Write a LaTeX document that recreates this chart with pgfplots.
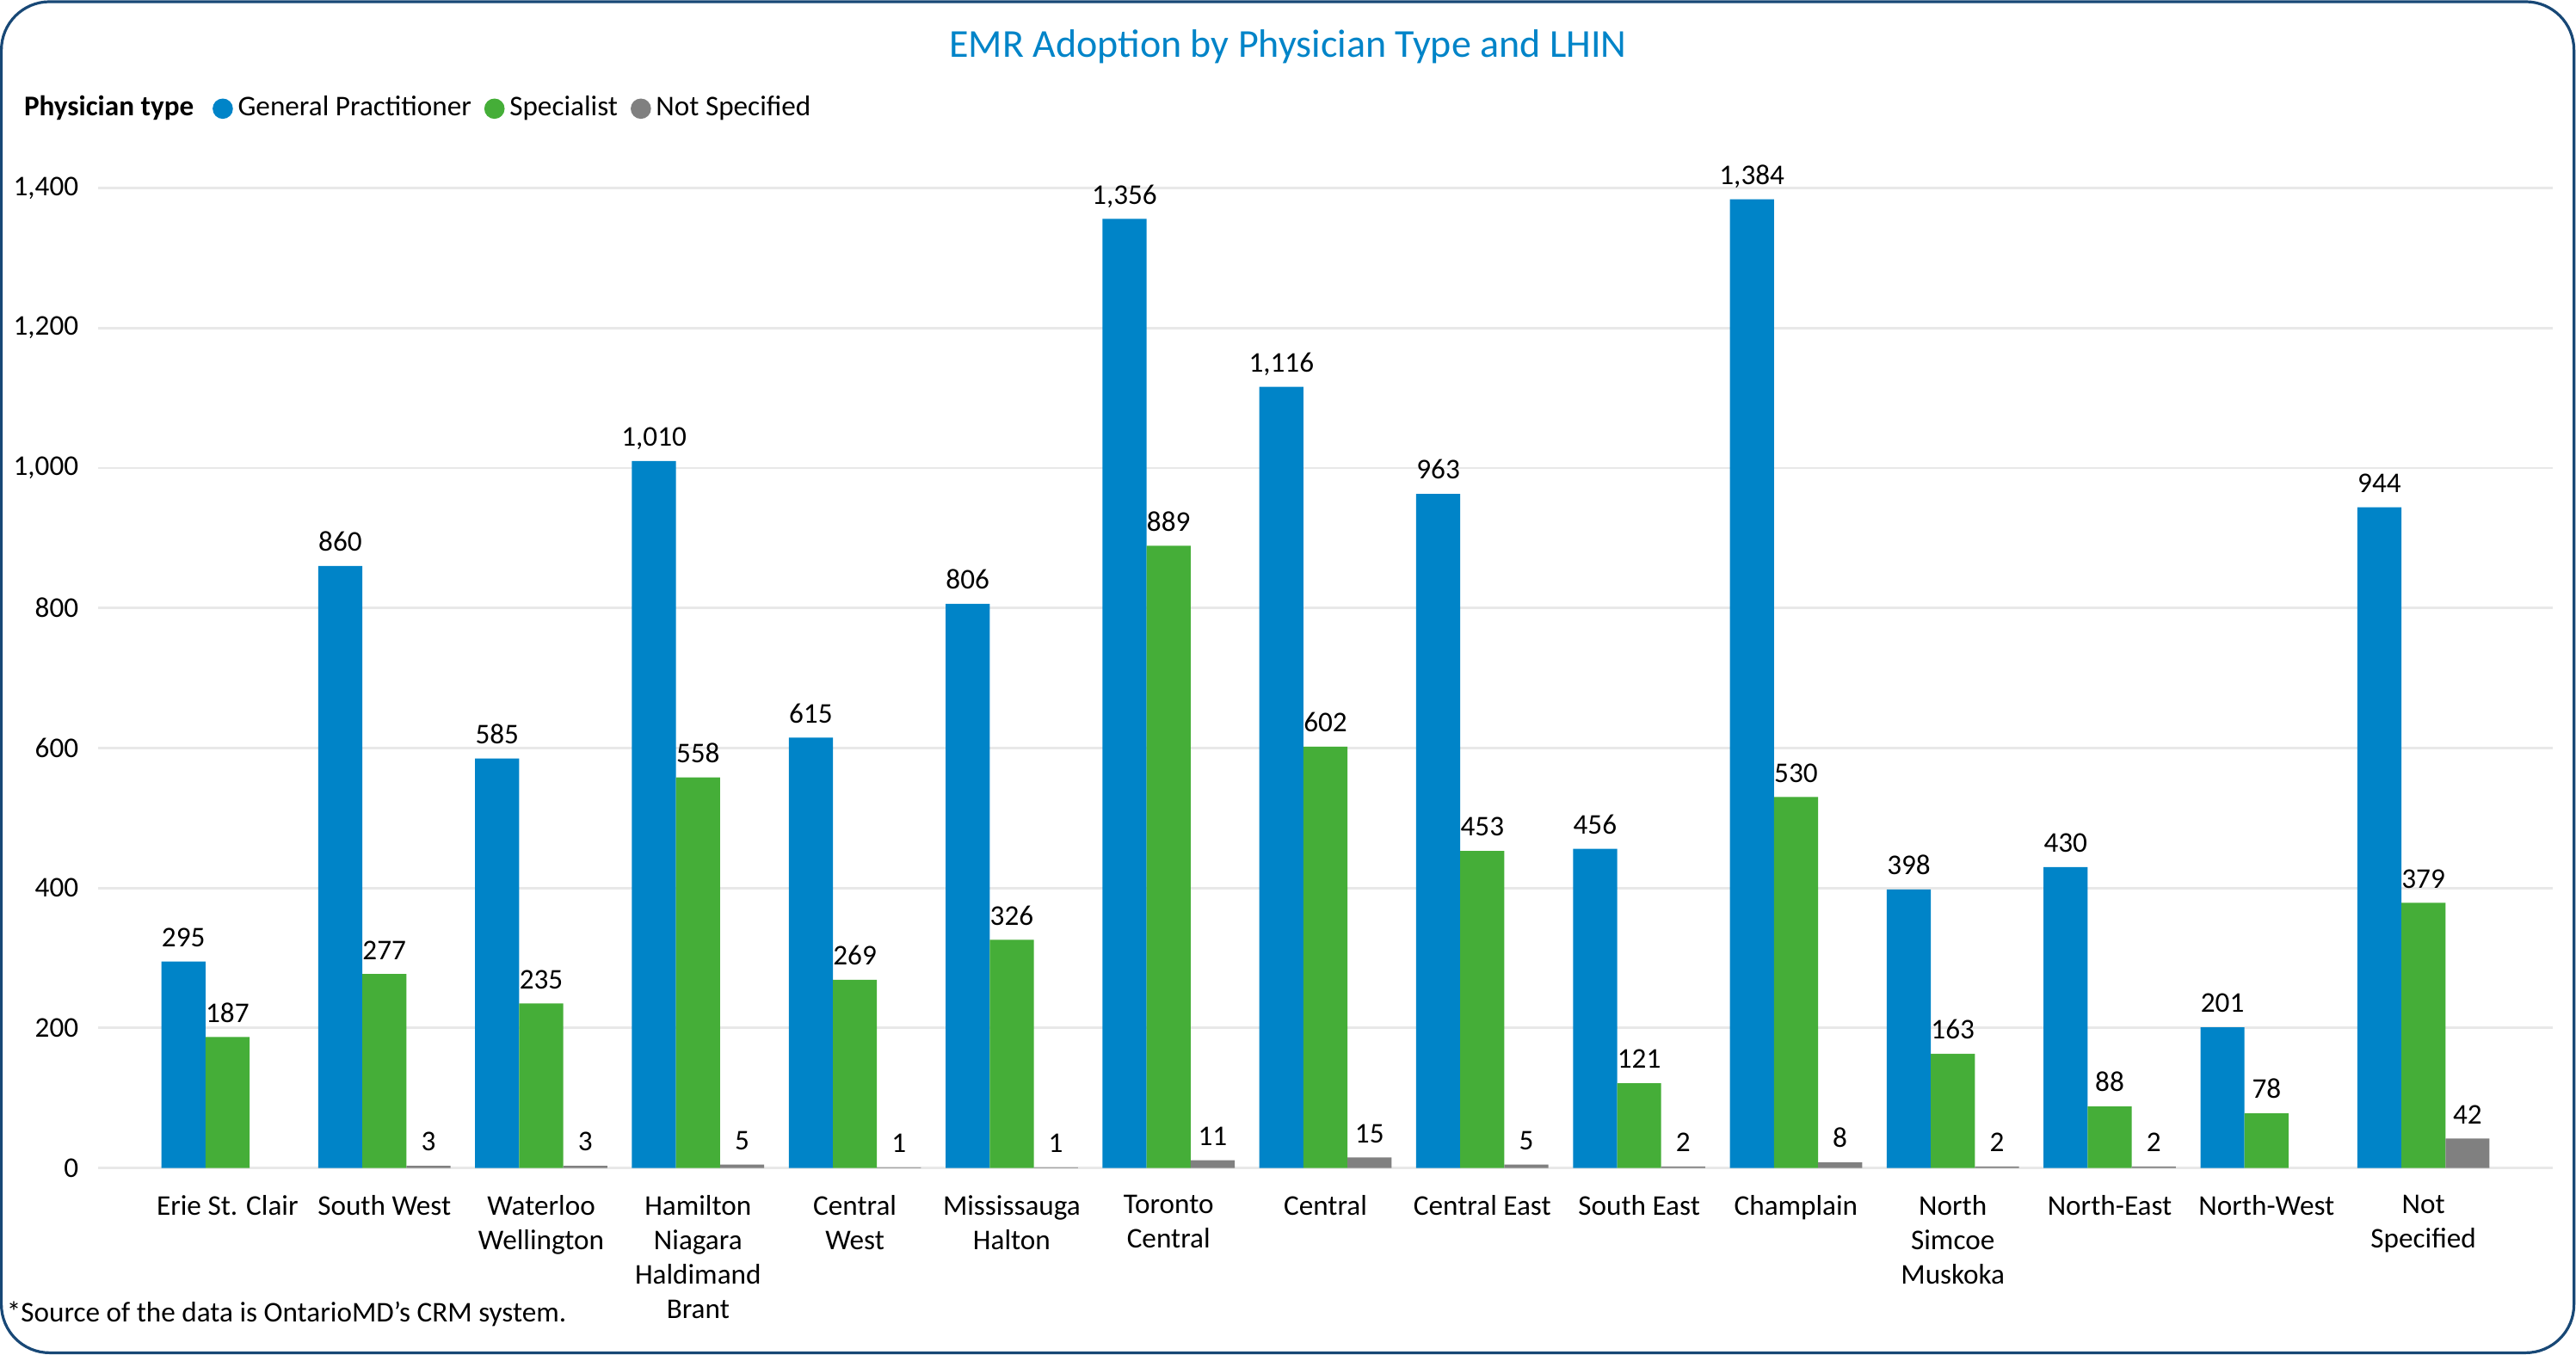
\documentclass[border=0pt]{standalone}
\usepackage{pgfplots}
\pgfplotsset{compat=1.18}
\usepackage{fontspec}
\setmainfont{Carlito}
\definecolor{gpblue}{RGB}{0,132,200}
\definecolor{spgreen}{RGB}{69,174,56}
\definecolor{nsgray}{RGB}{128,128,128}
\definecolor{framenavy}{RGB}{24,72,118}
\newcommand{\lab}{\fontsize{8.3}{10}\selectfont}

\begin{document}
\begin{tikzpicture}
\useasboundingbox (-28.5pt,-54.1pt) rectangle (720pt,339.4pt);
\draw[framenavy, line width=0.8pt, rounded corners=14pt] (-28.1pt,-53.7pt) rectangle (719.4pt,338.9pt);
\begin{axis}[
  at={(0pt,0pt)}, anchor=south west,
  width=713.25pt, height=284.75pt, scale only axis,
  xmin=-0.825, xmax=14.825, ymin=0, ymax=1400,
  ybar=0pt, bar width=0.281,
  axis line style={draw=none},
  major tick length=0pt,
  ymajorgrids, grid style={color=black!9, line width=0.7pt},
  ytick={0,200,...,1400},
  xtick={0,...,14},
  xticklabels={Erie St. Clair, South West, Waterloo\\Wellington, Hamilton\\Niagara\\Haldimand\\Brant, Central\\West, Mississauga\\Halton, Toronto\\Central, Central, Central East, South East, Champlain, North\\Simcoe\\Muskoka, North-East, North-West, Not\\Specified},
  tick label style={font=\lab, text=black},
  xticklabel style={align=center, anchor=north, inner sep=0pt, yshift=-7.7pt},
  yticklabel style={anchor=east, inner sep=0pt, xshift=-5.5pt},
  scaled y ticks=false,
  /pgf/number format/.cd, 1000 sep={,}, assume math mode=true, /pgfplots/.cd,
  nodes near coords,
  every node near coord/.append style={font=\lab, text=black, anchor=base, inner sep=0pt, yshift=4.3pt},
  clip=false,
  legend columns=-1,
  legend style={at={(-0.03014,1.081)}, anchor=west, draw=none, fill=none,
    inner sep=0pt, outer sep=0pt, column sep=0pt, row sep=0pt, font=\lab,
    nodes={inner sep=0pt, text=black}},
]
% General Practitioner
\addplot[fill=gpblue, draw=none, forget plot, bar shift=-0.281] coordinates {
(0,295) (1,860) (2,585) (3,1010) (4,615) (5,806) (6,1356) (7,1116)
(8,963) (9,456) (10,1384) (11,398) (12,430) (13,201) (14,944)};
% Specialist
\addplot[fill=spgreen, draw=none, forget plot, bar shift=0] coordinates {
(0,187) (1,277) (2,235) (3,558) (4,269) (5,326) (6,889) (7,602)
(8,453) (9,121) (10,530) (11,163) (12,88) (13,78) (14,379)};
% Not Specified (none shown for Erie St. Clair and North-West)
\addplot[fill=nsgray, draw=none, forget plot, bar shift=0.281] coordinates {
(1,3) (2,3) (3,5) (4,1) (5,1) (6,11) (7,15)
(8,5) (9,2) (10,8) (11,2) (12,2) (14,42)};
\addlegendimage{empty legend}
\addlegendentry{\textbf{Physician type}}
\addlegendimage{legend image code/.code={\path (0pt,0pt) (12.4pt,0pt); \fill[gpblue] (8.2pt,0pt) circle (2.75pt);}}
\addlegendentry{General Practitioner}
\addlegendimage{legend image code/.code={\path (0pt,0pt) (10.7pt,0pt); \fill[spgreen] (6.5pt,0pt) circle (2.75pt);}}
\addlegendentry{Specialist}
\addlegendimage{legend image code/.code={\path (0pt,0pt) (10.7pt,0pt); \fill[nsgray] (6.5pt,0pt) circle (2.75pt);}}
\addlegendentry{Not Specified}
\end{axis}
\node[anchor=base, inner sep=0pt, text=gpblue, font=\fontsize{11.5}{14}\selectfont] at (345.75pt,322.7pt) {EMR Adoption by Physician Type and LHIN};
\node[anchor=base west, inner sep=0pt, font=\lab] at (-26.75pt,-44.8pt) {*Source of the data is OntarioMD’s CRM system.};
\end{tikzpicture}
\end{document}
